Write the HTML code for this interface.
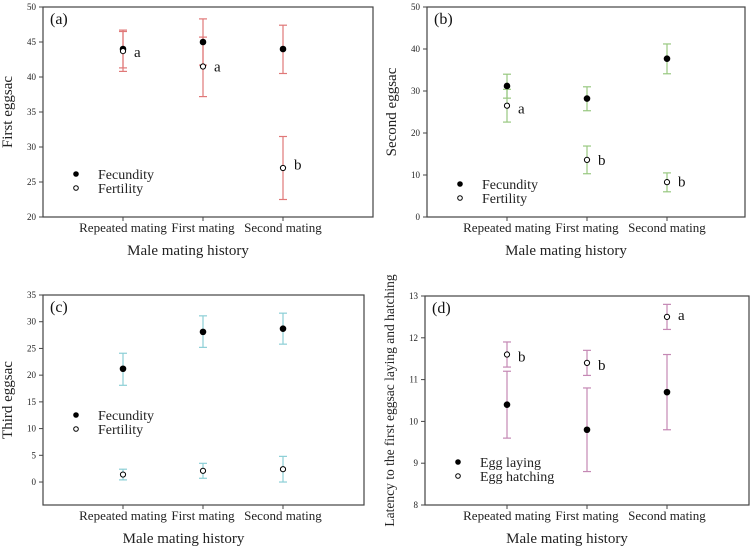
<!DOCTYPE html>
<html><head><meta charset="utf-8"><style>
body{margin:0;background:#fff}
svg{display:block}
text{font-family:"Liberation Serif","Times New Roman",serif}
</style></head><body>
<svg id="fig" width="754" height="554" viewBox="0 0 754 554"></svg>
<script>
const categories=["Repeated mating","First mating","Second mating"];
// panel a
const aFec=[44,45,44], aFecLo=[41.3,41.7,40.5], aFecHi=[46.7,48.3,47.4];
const aFer=[43.7,41.5,27], aFerLo=[40.8,37.2,22.5], aFerHi=[46.5,45.7,31.5];
const aTicks=[20,25,30,35,40,45,50], aLetters=["a","a","b"];
// panel b
const bFec=[31.2,28.2,37.7], bFecLo=[28.3,25.3,34.1], bFecHi=[34,31,41.2];
const bFer=[26.5,13.6,8.3], bFerLo=[22.6,10.3,6], bFerHi=[30.4,16.9,10.5];
const bTicks=[0,10,20,30,40,50], bLetters=["a","b","b"];
// panel c
const cFec=[21.2,28.1,28.7], cFecLo=[18.1,25.2,25.8], cFecHi=[24.1,31.1,31.6];
const cFer=[1.4,2.1,2.4], cFerLo=[0.4,0.7,0], cFerHi=[2.4,3.5,4.8];
const cTicks=[0,5,10,15,20,25,30,35];
// panel d
const dLay=[10.4,9.8,10.7], dLayLo=[9.6,8.8,9.8], dLayHi=[11.2,10.8,11.6];
const dHat=[11.6,11.4,12.5], dHatLo=[11.3,11.1,12.2], dHatHi=[11.9,11.7,12.8];
const dTicks=[8,9,10,11,12,13], dLetters=["b","b","a"];

const NS="http://www.w3.org/2000/svg", svg=document.getElementById("fig");
function mk(tag,attrs,parent,text){const e=document.createElementNS(NS,tag);for(const k in attrs)e.setAttribute(k,attrs[k]);if(text!==undefined)e.textContent=text;(parent||svg).appendChild(e);return e;}

function panel(o){
  const g=mk("g",{});
  
  
  const y=v=>o.bottom-(v-o.min)/(o.max-o.min)*(o.bottom-o.top);
  const xs=o.xs;
  const box=mk("rect",{x:o.left,y:o.top,width:o.right-o.left,height:o.bottom-o.top,fill:"none",stroke:"#444","stroke-width":1.2},g);
  
  
  o.ticks.forEach(t=>{
    mk("line",{x1:o.left-4,x2:o.left,y1:y(t),y2:y(t),stroke:"#444"},g);
    const tl=mk("text",{x:o.left-7,y:y(t)+3,"font-size":9,"text-anchor":"end",fill:"#222"},g,t);
    
    
  });
  categories.forEach((c,i)=>{
    mk("line",{x1:xs[i],x2:xs[i],y1:o.bottom,y2:o.bottom+4,stroke:"#444"},g);
    const xl=mk("text",{x:xs[i],y:o.bottom+15,"font-size":13,"text-anchor":"middle",fill:"#222"},g,c);
    
    
  });
  const xt=mk("text",{x:(o.left+o.right)/2-20,y:o.bottom+38,"font-size":15,"text-anchor":"middle",fill:"#222"},g,"Male mating history");
  
  
  const ycx=o.left-31, ycy=(o.top+o.bottom)/2;
  const yt=mk("text",{x:ycx,y:ycy,"font-size":o.ytSize||15,"text-anchor":"middle",fill:"#222",transform:`rotate(-90 ${ycx} ${ycy})`},g,o.ytitle);
  
  
  const pl=mk("text",{x:o.left+7,y:o.top+17,"font-size":16,fill:"#111"},g,"("+o.id+")");
  
  
  [[o.s1,o.s1lo,o.s1hi],[o.s2,o.s2lo,o.s2hi]].forEach(([v,lo,hi])=>{
    v.forEach((val,i)=>{
      const eb=mk("g",{stroke:o.color,"stroke-width":1.2},g);
      
      
      mk("line",{x1:xs[i],x2:xs[i],y1:y(lo[i]),y2:y(hi[i])},eb);
      mk("line",{x1:xs[i]-4,x2:xs[i]+4,y1:y(lo[i]),y2:y(lo[i])},eb);
      mk("line",{x1:xs[i]-4,x2:xs[i]+4,y1:y(hi[i]),y2:y(hi[i])},eb);
    });
  });
  [[o.s1,true],[o.s2,false]].forEach(([v,filled])=>{
    v.forEach((val,i)=>{
      const p=mk("circle",{cx:xs[i],cy:y(val),r:filled?2.8:2.6,fill:filled?"#000":"#fff",stroke:"#000","stroke-width":1},g);
      
      
    });
  });
  if(o.letters){o.letters.forEach((l,i)=>{
    const lt=mk("text",{x:xs[i]+11,y:y(o.letterAt[i])+5,"font-size":15,fill:"#111"},g,l);
    
    
  });}
  [[o.n1,true],[o.n2,false]].forEach(([n,filled],k)=>{
    const ly=o.legY+k*14;
    const le=mk("g",{},g);
    
    
    mk("circle",{cx:o.left+33,cy:ly,r:2.3,fill:filled?"#000":"#fff",stroke:"#000"},le);
    mk("text",{x:o.left+55,y:ly+5,"font-size":14,fill:"#222"},le,n);
  });
}
panel({id:"a",left:43,right:373,top:7,bottom:217,min:20,max:50,xs:[123,203,283],ticks:aTicks,color:"#e07878",
  s1:aFec,s1lo:aFecLo,s1hi:aFecHi,s2:aFer,s2lo:aFerLo,s2hi:aFerHi,letters:aLetters,letterAt:[43.6,41.5,27.5],
  ytitle:"First eggsac",n1:"Fecundity",n2:"Fertility",legY:174});
panel({id:"b",left:427,right:745,top:7,bottom:217,min:0,max:50,xs:[507,587,667],ticks:bTicks,color:"#98c880",
  s1:bFec,s1lo:bFecLo,s1hi:bFecHi,s2:bFer,s2lo:bFerLo,s2hi:bFerHi,letters:bLetters,letterAt:[25.8,13.6,8.4],
  ytitle:"Second eggsac",n1:"Fecundity",n2:"Fertility",legY:184});
panel({id:"c",left:43,right:364,top:295,bottom:505,min:-4.3,max:35,xs:[123,203,283],ticks:cTicks,color:"#8ccfd6",
  s1:cFec,s1lo:cFecLo,s1hi:cFecHi,s2:cFer,s2lo:cFerLo,s2hi:cFerHi,
  ytitle:"Third eggsac",n1:"Fecundity",n2:"Fertility",legY:415});
panel({id:"d",left:425,right:749,top:296,bottom:505,min:8,max:13,xs:[507,587,667],ticks:dTicks,color:"#c488b4",
  s1:dLay,s1lo:dLayLo,s1hi:dLayHi,s2:dHat,s2lo:dHatLo,s2hi:dHatHi,letters:dLetters,letterAt:[11.55,11.35,12.55],
  ytitle:"Latency to the first eggsac laying and hatching",ytSize:13.5,n1:"Egg laying",n2:"Egg hatching",legY:462});
</script>
</body></html>
